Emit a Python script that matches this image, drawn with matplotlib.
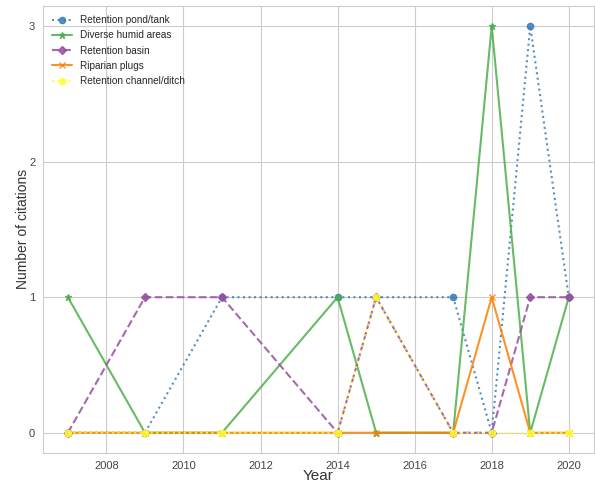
import matplotlib
matplotlib.use('Agg')
from matplotlib import pyplot as plt
import seaborn as sns

years = [2007, 2009, 2011, 2014, 2015, 2017, 2018, 2019, 2020]
pond_tank = [0, 0, 1, 1, 1, 1, 0, 3, 1]
humid_areas = [1, 0, 0, 1, 0, 0, 3, 0, 1]
basin = [0, 1, 1, 0, 1, 0, 0, 1, 1]
riparian_plugs = [0, 0, 0, 0, 0, 0, 1, 0, 0]
channel_ditch = [0, 0, 0, 0, 1, 0, 0, 0, 0]

series = [
    ('Retention pond/tank', pond_tank, '#377eb8', ':', 'o'),
    ('Diverse humid areas', humid_areas, '#4daf4a', '-', '*'),
    ('Retention basin', basin, '#984ea3', '--', 'D'),
    ('Riparian plugs', riparian_plugs, '#ff7f00', '-', 'x'),
    ('Retention channel/ditch', channel_ditch, '#ffff33', ':', 'o'),
]

sns.set_style('whitegrid')
plt.rcParams['font.family'] = ['Liberation Sans', 'DejaVu Sans']

fig = plt.figure(figsize=(5.95, 4.83), dpi=100)
ax = fig.add_axes([0.072, 0.062, 0.926, 0.926])

for name, values, color, ls, mk in series:
    ax.plot(years, values, label=name, color=color, linestyle=ls, marker=mk,
            markersize=4.5, linewidth=1.5, alpha=0.85)

ax.set_yticks([0, 1, 2, 3])
ax.set_xlabel('Year', fontsize=11, color='#333333', labelpad=-1)
ax.set_ylabel('Number of citations', fontsize=10, color='#333333', labelpad=-1)
ax.tick_params(axis='both', labelsize=8, colors='#444444', pad=2)
for s in ax.spines.values():
    s.set_color('#cccccc')
ax.legend(loc='upper left', fontsize=7.2, frameon=False, labelspacing=0.52,
          borderaxespad=0.55)

fig.savefig('out.png', dpi=100)
